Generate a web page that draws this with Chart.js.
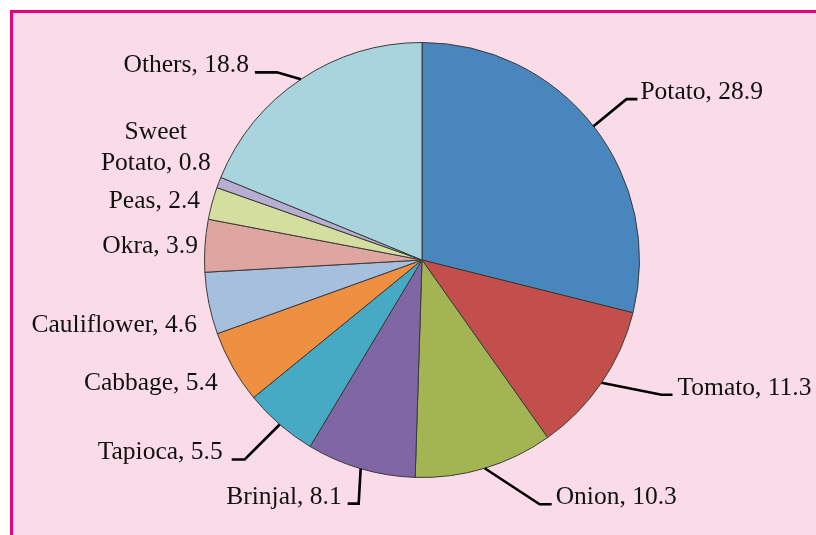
<!DOCTYPE html>
<html>
<head>
<meta charset="utf-8">
<script src="https://cdn.jsdelivr.net/npm/chart.js@4.4.1/dist/chart.umd.min.js"></script>
<style>
	html, body { margin: 0; padding: 0; background: #ffffff; width: 816px; height: 535px; overflow: hidden; }
	#panel {
		position: absolute; left: 10px; top: 10px; width: 820px; height: 540px;
		background: #fadce8; border-left: 3px solid #e6007e; border-top: 3px solid #e6007e;
	}
	#myChart { position: absolute; left: 0; top: 0; }
</style>
</head>
<body>
<div id="panel"></div>
<canvas id="myChart" width="816" height="535"></canvas>
<script>
// vegetable production share, per cent
const crops = ["Potato", "Tomato", "Onion", "Brinjal", "Tapioca", "Cabbage", "Cauliflower", "Okra", "Peas", "Sweet Potato", "Others"];
const shares = [28.9, 11.3, 10.3, 8.1, 5.5, 5.4, 4.6, 3.9, 2.4, 0.8, 18.8];
const sliceColors = ["#4a86be", "#c34f4c", "#a2b552", "#7f66a4", "#46aac4", "#ee8f42", "#a6bfdd", "#dfa5a1", "#d4df9f", "#b8aed2", "#a8d4de"];

// label placement relative to the slice's outer edge point
// elbow: leader bend, run: horizontal segment, gap: space before text, off: label offset when no leader
const labelLayout = [
	{ elbow: [33, -27], run: 11, gap: 3 },
	{ elbow: [60, 12], run: 11, gap: 5 },
	{ elbow: [55, 36], run: 12, gap: 4 },
	{ elbow: [-2, 35], run: -11, gap: 6 },
	{ elbow: [-35, 35], run: -13, gap: 9 },
	{ off: [-15, 23], align: "right" },
	{ off: [-12, 29], align: "right" },
	{ off: [-7, 7], align: "right" },
	{ off: [-12, 5], align: "right" },
	{ off: [-63, -12], align: "center", lines: ["Sweet", "Potato, 0.8"] },
	{ elbow: [-24, -7], run: -22, gap: 6 },
];

const leaderLabels = {
	id: "leaderLabels",
	afterDatasetsDraw(chart) {
		const ctx = chart.ctx;
		const arcs = chart.getDatasetMeta(0).data;
		ctx.save();
		ctx.font = '25.5px "Liberation Serif", "Times New Roman", serif';
		ctx.fillStyle = "#111111";
		ctx.strokeStyle = "#000000";
		ctx.lineWidth = 2.6;
		ctx.textBaseline = "alphabetic";
		arcs.forEach((arc, i) => {
			const p = arc.getProps(["x", "y", "startAngle", "endAngle", "outerRadius"], true);
			const mid = (p.startAngle + p.endAngle) / 2;
			const ex = p.x + Math.cos(mid) * p.outerRadius;
			const ey = p.y + Math.sin(mid) * p.outerRadius;
			const lay = labelLayout[i];
			const text = crops[i] + ", " + shares[i].toFixed(1);
			if (lay.elbow) {
				const bx = ex + lay.elbow[0];
				const by = ey + lay.elbow[1];
				const tx = bx + lay.run;
				ctx.beginPath();
				ctx.moveTo(ex, ey);
				ctx.lineTo(bx, by);
				ctx.lineTo(tx, by);
				ctx.stroke();
				if (lay.run > 0) {
					ctx.textAlign = "left";
					ctx.fillText(text, tx + lay.gap, by);
				} else {
					ctx.textAlign = "right";
					ctx.fillText(text, tx - lay.gap, by);
				}
			} else {
				ctx.textAlign = lay.align;
				const lines = lay.lines || [text];
				const lx = ex + lay.off[0];
				const ly = ey + lay.off[1];
				lines.forEach((ln, k) => {
					ctx.fillText(ln, lx, ly - (lines.length - 1 - k) * 31);
				});
			}
		});
		ctx.restore();
	},
};

const ctx = document.getElementById("myChart").getContext("2d");
const myChart = new Chart(ctx, {
	type: "pie",
	data: {
		labels: crops,
		datasets: [
			{
				data: shares,
				backgroundColor: sliceColors,
				borderColor: "#3a3a3a",
				borderWidth: 1,
			},
		],
	},
	options: {
		responsive: false,
		animation: false,
		layout: { padding: { left: 28, right: 0, top: 42, bottom: 57 } },
		plugins: {
			legend: { display: false },
			tooltip: { enabled: false },
		},
	},
	plugins: [leaderLabels],
});
</script>
</body>
</html>
